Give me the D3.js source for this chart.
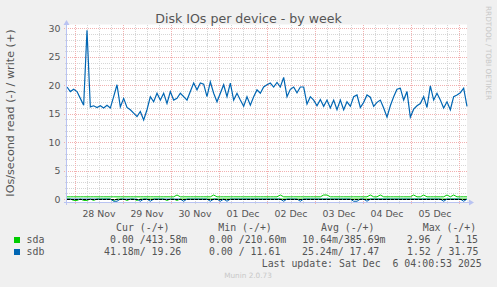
<!DOCTYPE html>
<html>
<head>
<meta charset="utf-8">
<script src="https://cdn.jsdelivr.net/npm/d3@7"></script>
<style>
body { margin:0; background:#f0f0f0; }
svg { display:block; }
text { font-family: "DejaVu Sans", sans-serif; fill:#555; }
.mono { font-family: "DejaVu Sans Mono", monospace; white-space: pre; }
</style>
</head>
<body>
<svg width="497" height="287"></svg>
<script>
// samples every 100 minutes, Nov 27 20:00 -> Dec 6 04:00
var sdbWrite = [
  19.7,18.9,19.3,18.9,17.7,16.5,29.7,16.2,16.4,16.1,16.4,16.0,16.5,16.0,18.0,20.1,16.2,17.7,16.1,15.7,
  15.1,14.5,15.4,13.9,15.7,18.0,17.1,18.6,17.4,18.6,16.8,18.9,17.4,17.7,18.6,18.0,17.4,18.9,20.4,19.2,
  20.4,20.2,18.0,20.6,18.6,17.1,18.6,20.1,18.0,20.4,17.4,18.6,17.4,16.3,18.0,
  16.5,18.0,19.2,18.6,19.7,20.1,20.4,19.7,20.5,19.7,21.4,18.0,19.3,19.7,18.7,19.7,19.7,16.7,18.0,17.4,
  16.4,17.5,16.3,17.4,16.0,17.4,15.7,17.4,15.7,17.1,16.3,18.0,18.3,16.1,17.0,18.3,17.9,16.3,17.0,17.4,
  16.0,14.4,16.4,18.0,19.3,19.5,17.4,18.9,14.4,15.8,16.4,16.8,18.0,16.1,19.9,17.4,18.6,17.4,16.0,17.1,
  15.7,18.0,18.3,18.7,19.5,16.3
];
var sdbRead = [
  -0.02,-0.02,-0.02,-0.02,-0.02,-0.02,-0.02,-0.02,-0.02,-0.02,-0.02,-0.02,-0.02,-0.02,-0.4,-0.4,-0.02,-0.02,-0.02,-0.02,
  -0.02,-0.02,-0.4,-0.02,-0.02,-0.4,-0.02,-0.02,-0.02,-0.02,-0.02,-0.02,-0.02,-0.02,-0.02,-0.4,-0.02,-0.02,-0.02,-0.02,
  -0.02,-0.02,-0.02,-0.4,-0.02,-0.02,-0.4,-0.02,-0.4,-0.02,-0.02,-0.02,-0.02,-0.02,-0.02,-0.02,-0.02,-0.02,-0.02,-0.02,
  -0.02,-0.02,-0.02,-0.02,-0.02,-0.4,-0.02,-0.02,-0.02,-0.02,-0.4,-0.02,-0.02,-0.02,-0.02,-0.02,-0.02,-0.02,-0.02,-0.02,
  -0.02,-0.02,-0.02,-0.02,-0.02,-0.02,-0.4,-0.4,-0.02,-0.02,-0.4,-0.02,-0.02,-0.02,-0.02,-0.02,-0.02,-0.02,-0.02,-0.02,
  -0.02,-0.02,-0.02,-0.02,-0.02,-0.02,-0.02,-0.02,-0.02,-0.02,-0.02,-0.02,-0.02,-0.4,-0.02,-0.02,-0.02,-0.02,-0.02,-0.4,-0.02
];
var sdaWrite = [
  0.38,0.38,0.38,0.38,0.38,0.38,0.38,0.38,0.38,0.38,0.38,0.38,0.38,0.38,0.38,0.38,0.38,0.38,0.38,0.38,
  0.38,0.38,0.38,0.38,0.38,0.38,0.38,0.38,0.38,0.38,0.38,0.38,0.38,0.70,0.38,0.38,0.38,0.38,0.38,0.38,
  0.38,0.38,0.38,0.38,0.70,0.38,0.38,0.38,0.38,0.38,0.38,0.38,0.38,0.38,0.38,0.38,0.38,0.38,0.38,0.38,
  0.38,0.38,0.38,0.38,0.70,0.38,0.38,0.38,0.38,0.38,0.38,0.38,0.38,0.38,0.38,0.38,0.38,0.70,0.70,0.38,
  0.38,0.38,0.38,0.38,0.38,0.38,0.38,0.38,0.38,0.38,0.38,0.70,0.38,0.38,0.70,0.38,0.38,0.38,0.38,0.38,
  0.38,0.38,0.38,0.38,0.70,0.38,0.38,0.70,0.38,0.38,0.38,0.38,0.38,0.38,0.70,0.38,0.70,0.38,0.38,0.38,0.38
];
var sdaRead = [
  -0.01,-0.01,-0.25,-0.25,-0.01,-0.25,-0.25,-0.01,-0.25,-0.01,-0.01,-0.01,-0.01,-0.01,-0.25,-0.01,-0.01,-0.01,-0.25,-0.01,
  -0.01,-0.25,-0.01,-0.01,-0.01,-0.01,-0.01,-0.01,-0.01,-0.01,-0.25,-0.01,-0.01,-0.25,-0.01,-0.01,-0.01,-0.01,-0.01,-0.01,
  -0.01,-0.01,-0.01,-0.01,-0.01,-0.01,-0.01,-0.01,-0.01,-0.01,-0.01,-0.01,-0.01,-0.01,-0.01,-0.01,-0.01,-0.01,-0.01,-0.01,
  -0.01,-0.01,-0.01,-0.01,-0.01,-0.01,-0.01,-0.01,-0.01,-0.01,-0.01,-0.01,-0.01,-0.01,-0.01,-0.01,-0.01,-0.01,-0.01,-0.01,
  -0.01,-0.01,-0.01,-0.01,-0.01,-0.01,-0.01,-0.01,-0.01,-0.01,-0.01,-0.01,-0.01,-0.01,-0.01,-0.01,-0.01,-0.01,-0.01,-0.01,
  -0.01,-0.01,-0.01,-0.01,-0.01,-0.01,-0.01,-0.01,-0.01,-0.01,-0.01,-0.01,-0.01,-0.01,-0.01,-0.01,-0.01,-0.01,-0.01,-0.01,-0.01
];

var yTicks = [0, 5, 10, 15, 20, 25, 30];
var dayLabels = ["28 Nov", "29 Nov", "30 Nov", "01 Dec", "02 Dec", "03 Dec", "04 Dec", "05 Dec"];

var legendNames = ["sda", "sdb"];
var legendColors = ["#00cc00", "#0066b3"];
var legendHead = ["Cur (-/+)", "Min (-/+)", "Avg (-/+)", "Max (-/+)"];
var legendCur = ["0.00 /413.58m", "41.18m/ 19.26"];
var legendMin = ["0.00 /210.60m", "0.00 / 11.61"];
var legendAvg = ["10.64m/385.69m", "25.24m/ 17.47"];
var legendMax = ["2.96 /  1.15", "1.52 / 31.75"];

var startTime = new Date(Date.UTC(2025, 10, 27, 20, 0));
var endTime = new Date(Date.UTC(2025, 11, 6, 4, 0));
var stepMinutes = 100;

var svg = d3.select("svg");
var plotLeft = 67, plotRight = 467, plotTop = 24.5, plotBottom = 202;

var x = d3.scaleUtc().domain([startTime, endTime]).range([plotLeft, plotRight]);
var y = d3.scaleLinear().domain([-0.53, 30.7]).range([plotBottom, plotTop]);

function timeAt(i) { return d3.utcMinute.offset(startTime, i * stepMinutes); }
function crisp(v) { return Math.round(v) + 0.5; }

// plot canvas
svg.append("rect")
  .attr("x", plotLeft).attr("y", plotTop)
  .attr("width", plotRight - plotLeft).attr("height", plotBottom - plotTop)
  .attr("fill", "#ffffff");

var grid = svg.append("g").attr("shape-rendering", "crispEdges");
var minorColor = "#d6d6d6", majorColor = "#f2b0b0";

// minor horizontal grid (every 1)
grid.selectAll(".ymin")
  .data(d3.range(1, 31).filter(function(d) { return d % 5 !== 0; }))
  .enter().append("line")
  .attr("x1", plotLeft - 2).attr("x2", plotRight)
  .attr("y1", function(d) { return crisp(y(d)); })
  .attr("y2", function(d) { return crisp(y(d)); })
  .attr("stroke", minorColor)
  .attr("stroke-dasharray", "1,1");

// minor vertical grid (every 6 hours)
var sixHours = d3.utcHour.every(6).range(startTime, endTime)
  .filter(function(d) { return d.getUTCHours() !== 0; });
grid.selectAll(".xmin")
  .data(sixHours)
  .enter().append("line")
  .attr("x1", function(d) { return crisp(x(d)); })
  .attr("x2", function(d) { return crisp(x(d)); })
  .attr("y1", plotTop).attr("y2", plotBottom + 2)
  .attr("stroke", minorColor)
  .attr("stroke-dasharray", "1,1");

// major grid
grid.selectAll(".ymaj")
  .data(yTicks)
  .enter().append("line")
  .attr("x1", plotLeft - 3).attr("x2", plotRight)
  .attr("y1", function(d) { return crisp(y(d)); })
  .attr("y2", function(d) { return crisp(y(d)); })
  .attr("stroke", majorColor)
  .attr("stroke-dasharray", "1,1");

var days = d3.utcDay.range(startTime, endTime);
grid.selectAll(".xmaj")
  .data(days)
  .enter().append("line")
  .attr("x1", function(d) { return crisp(x(d)); })
  .attr("x2", function(d) { return crisp(x(d)); })
  .attr("y1", plotTop).attr("y2", plotBottom + 3)
  .attr("stroke", majorColor)
  .attr("stroke-dasharray", "1,1");

// series
var line = d3.line()
  .x(function(d, i) { return x(timeAt(i)); })
  .y(function(d) { return y(d); });

var series = [
  {values: sdaRead, color: legendColors[0], width: 1},
  {values: sdaWrite, color: legendColors[0], width: 1},
  {values: sdbRead, color: legendColors[1], width: 1},
  {values: sdbWrite, color: legendColors[1], width: 1.2}
];

svg.selectAll(".series")
  .data(series)
  .enter().append("path")
  .attr("class", "series")
  .attr("d", function(d) { return line(d.values); })
  .attr("fill", "none")
  .attr("stroke", function(d) { return d.color; })
  .attr("stroke-width", function(d) { return d.width; });

// zero line
svg.append("line")
  .attr("x1", plotLeft).attr("x2", plotRight)
  .attr("y1", crisp(y(0))).attr("y2", crisp(y(0)))
  .attr("stroke", "#000")
  .attr("stroke-dasharray", "3,1")
  .attr("shape-rendering", "crispEdges");

// axes with arrows
var axisColor = "#b9c3f2";
svg.append("line")
  .attr("x1", plotLeft - 3).attr("x2", plotRight + 2)
  .attr("y1", plotBottom + 0.5).attr("y2", plotBottom + 0.5)
  .attr("stroke", axisColor).attr("shape-rendering", "crispEdges");
svg.append("path")
  .attr("d", "M" + (plotRight + 2) + "," + (plotBottom - 2.5) + "L" + (plotRight + 7) + "," + (plotBottom + 0.5) + "L" + (plotRight + 2) + "," + (plotBottom + 3.5) + "Z")
  .attr("fill", axisColor);
svg.append("line")
  .attr("x1", plotLeft - 0.5).attr("x2", plotLeft - 0.5)
  .attr("y1", plotBottom + 3).attr("y2", plotTop - 1)
  .attr("stroke", axisColor).attr("shape-rendering", "crispEdges");
svg.append("path")
  .attr("d", "M" + (plotLeft - 3.5) + "," + (plotTop + 0.5) + "L" + (plotLeft - 0.5) + "," + (plotTop - 4.5) + "L" + (plotLeft + 2.5) + "," + (plotTop + 0.5) + "Z")
  .attr("fill", axisColor);

// tick labels
svg.selectAll(".ylab")
  .data(yTicks)
  .enter().append("text")
  .attr("x", 60.5)
  .attr("y", function(d) { return y(d) + 3.6; })
  .attr("text-anchor", "end")
  .style("font-size", "9.4px")
  .text(function(d) { return d; });

svg.selectAll(".xlab")
  .data(dayLabels)
  .enter().append("text")
  .attr("x", function(d, i) { return x(d3.utcHour.offset(days[i], 12)); })
  .attr("y", 216.5)
  .attr("text-anchor", "middle")
  .style("font-size", "9.4px")
  .text(function(d) { return d; });

// titles
svg.append("text")
  .attr("x", 248.5).attr("y", 23)
  .attr("text-anchor", "middle")
  .style("font-size", "12.6px")
  .text("Disk IOs per device - by week");

svg.append("text")
  .attr("transform", "translate(14,113) rotate(-90)")
  .attr("text-anchor", "middle")
  .style("font-size", "11.2px")
  .text("IOs/second read (-) / write (+)");

svg.append("text")
  .attr("transform", "translate(485.5,53) rotate(90)")
  .attr("text-anchor", "middle")
  .style("font-size", "7.3px")
  .style("fill", "#c8c8c8")
  .text("RRDTOOL / TOBI OETIKER");

// legend
var headX = [116, 218.3, 321, 422.7];
svg.selectAll(".lhead")
  .data(legendHead)
  .enter().append("text")
  .attr("class", "mono")
  .attr("x", function(d, i) { return headX[i]; })
  .attr("y", 230.5)
  .style("font-size", "9.9px")
  .text(function(d) { return d; });

var rowY = [243, 255];
var cellX = [[110, 209, 302.3, 406.7], [104, 209, 302, 407]];

svg.selectAll(".lbox")
  .data(legendNames)
  .enter().append("rect")
  .attr("x", 14).attr("y", function(d, i) { return rowY[i] - 6; })
  .attr("width", 6).attr("height", 6)
  .attr("fill", function(d, i) { return legendColors[i]; });

svg.selectAll(".lname")
  .data(legendNames)
  .enter().append("text")
  .attr("class", "mono")
  .attr("x", 26.5).attr("y", function(d, i) { return rowY[i]; })
  .style("font-size", "9.9px")
  .text(function(d) { return d; });

legendNames.forEach(function(name, i) {
  var cells = [legendCur[i], legendMin[i], legendAvg[i], legendMax[i]];
  svg.selectAll(".cell" + i)
    .data(cells)
    .enter().append("text")
    .attr("class", "mono")
    .attr("x", function(d, j) { return cellX[i][j]; })
    .attr("y", rowY[i])
    .style("font-size", "9.9px")
    .text(function(d) { return d; });
});

svg.append("text")
  .attr("class", "mono")
  .attr("x", 261.7).attr("y", 266.5)
  .style("font-size", "9.9px")
  .text("Last update: Sat Dec  6 04:00:53 2025");

svg.append("text")
  .attr("x", 248).attr("y", 278)
  .attr("text-anchor", "middle")
  .style("font-size", "7.3px")
  .style("fill", "#c8c8c8")
  .text("Munin 2.0.73");
</script>
</body>
</html>
